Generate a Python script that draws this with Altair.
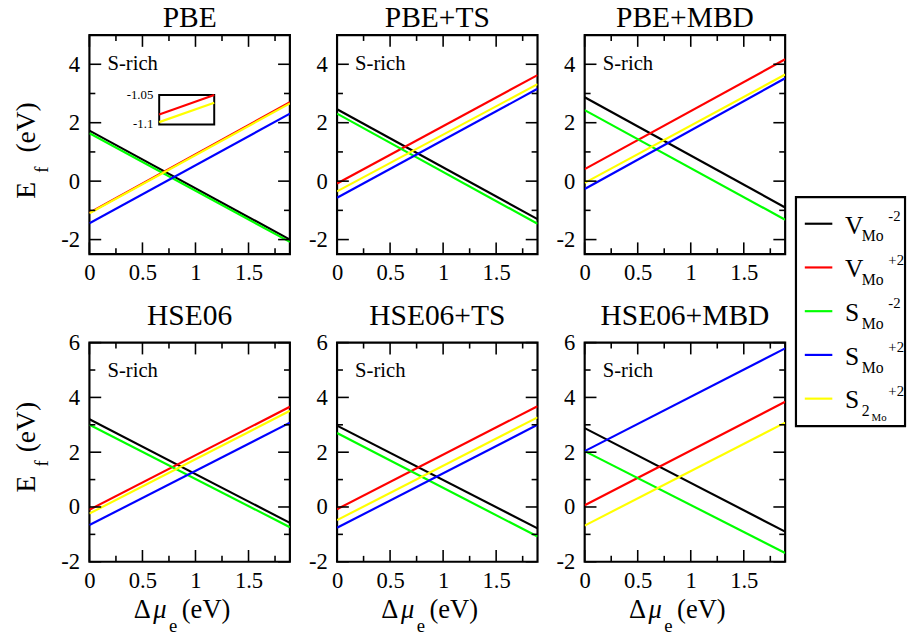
import altair as alt
import pandas as pd

FONT = "Liberation Serif, DejaVu Serif, serif"

methods = ["PBE", "PBE+TS", "PBE+MBD", "HSE06", "HSE06+TS", "HSE06+MBD"]
series = ["V_Mo^-2", "V_Mo^+2", "S_Mo^-2", "S_Mo^+2", "S2_Mo^+2"]
colors = ["#000000", "#ff0000", "#00ff00", "#0000ff", "#ffff00"]
mu_range = [0.0, 1.89]

# E_f (eV) at Δμe = 0 and at the right end, in the order of `series`
pbe_start = [1.73, -1.08, 1.64, -1.44, -1.10]
pbe_end = [-2.00, 2.70, -2.08, 2.31, 2.66]
pbets_start = [2.46, -0.08, 2.31, -0.57, -0.35]
pbets_end = [-1.30, 3.63, -1.46, 3.16, 3.32]
pbembd_start = [2.87, 0.41, 2.43, -0.27, -0.06]
pbembd_end = [-0.90, 4.17, -1.32, 3.52, 3.65]
hse_start = [3.20, -0.10, 3.00, -0.66, -0.24]
hse_end = [-0.58, 3.66, -0.74, 3.08, 3.51]
hsets_start = [2.97, -0.08, 2.70, -0.76, -0.48]
hsets_end = [-0.78, 3.68, -1.08, 3.00, 3.27]
hsembd_start = [2.88, 0.06, 2.04, 2.04, -0.68]
hsembd_end = [-0.90, 3.84, -1.68, 5.79, 3.08]

# inset of the PBE panel (zoom on V_Mo^+2 and S2_Mo^+2)
inset_mu = [0.0, 0.0165]
inset_red = [-1.083, -1.050]
inset_yellow = [-1.096, -1.063]
inset_ticks = [-1.05, -1.1]

# axis ticks
top_y_major = [-2, 0, 2, 4]
top_y_minor = [-1, 1, 3]
bot_y_major = [-2, 0, 2, 4, 6]
bot_y_minor = [-1, 1, 3, 5]
x_major = [0, 0.5, 1, 1.5]
x_minor = [0.25, 0.75, 1.25, 1.75]

# legend text pieces
leg_main = ["V", "V", "S", "S", "S"]
leg_sub = ["Mo", "Mo", "Mo", "Mo", "2"]
leg_subsub = ["", "", "", "", "Mo"]
leg_sup = ["-2", "+2", "-2", "+2", "+2"]

srich_label = "S-rich"

starts = [pbe_start, pbets_start, pbembd_start, hse_start, hsets_start, hsembd_start]
ends = [pbe_end, pbets_end, pbembd_end, hse_end, hsets_end, hsembd_end]

rows = []
for m, st, en in zip(methods, starts, ends):
    for s, a, b in zip(series, st, en):
        rows.append({"method": m, "series": s, "mu": mu_range[0], "ef": a})
        rows.append({"method": m, "series": s, "mu": mu_range[1], "ef": b})
lines_df = pd.DataFrame(rows)

W, H = 204, 223
MAJ, MIN = 12, 6
one = pd.DataFrame({"a": [0]})
LABEL_EXPR = "datum.value < 0 ? '-' + format(-datum.value, '') : format(datum.value, '')"


def text_piece(txt, x, y, size, angle=0, italic=False, align="center"):
    return alt.Chart(one).mark_text(
        text=txt, font=FONT, fontSize=size, angle=angle, align=align,
        baseline="alphabetic", color="black",
        fontStyle="italic" if italic else "normal",
    ).encode(x=alt.value(x), y=alt.value(y))


def panel(i):
    m = methods[i]
    top = i < 3
    ydom = [-2.5, 5] if top else [-2, 6]
    ymaj = top_y_major if top else bot_y_major
    ymin = top_y_minor if top else bot_y_minor
    xs = alt.Scale(domain=mu_range, nice=False, zero=False)
    ys = alt.Scale(domain=ydom, nice=False, zero=False)
    xaxis = alt.Axis(values=x_major, title=None, domain=False, ticks=False, tickSize=0,
                     grid=False, labelFont=FONT, labelFontSize=23, labelPadding=8,
                     labelColor="black", labelFlush=False, labelExpr=LABEL_EXPR)
    yaxis = alt.Axis(values=ymaj, title=None, domain=False, ticks=False, tickSize=0,
                     grid=False, labelFont=FONT, labelFontSize=23, labelPadding=10,
                     labelColor="black", labelFlush=False, labelExpr=LABEL_EXPR)
    df = lines_df[lines_df.method == m]
    layers = []
    for s, c in zip(series, colors):
        d = df[df.series == s]
        layers.append(alt.Chart(d).mark_line(color=c, strokeWidth=2.2, clip=True).encode(
            x=alt.X("mu:Q", scale=xs, axis=xaxis),
            y=alt.Y("ef:Q", scale=ys, axis=yaxis)))
    # inward ticks on all four sides
    for vals, L in ((ymaj, MAJ), (ymin, MIN)):
        base = alt.Chart(pd.DataFrame({"v": vals})).mark_rule(color="black", strokeWidth=1.6)
        yenc = alt.Y("v:Q", scale=ys, axis=yaxis)
        layers.append(base.encode(y=yenc, x=alt.value(0), x2=alt.value(L)))
        layers.append(base.encode(y=yenc, x=alt.value(W - L), x2=alt.value(W)))
    for vals, L in ((x_major, MAJ), (x_minor, MIN)):
        base = alt.Chart(pd.DataFrame({"v": vals})).mark_rule(color="black", strokeWidth=1.6)
        xenc = alt.X("v:Q", scale=xs, axis=xaxis)
        layers.append(base.encode(x=xenc, y=alt.value(H), y2=alt.value(H - L)))
        layers.append(base.encode(x=xenc, y=alt.value(0), y2=alt.value(L)))
    layers.append(alt.Chart(one).mark_text(
        text=srich_label, font=FONT, fontSize=21, align="left", baseline="middle", color="black"
    ).encode(x=alt.XDatum(0.17, type="quantitative", scale=xs, axis=xaxis),
             y=alt.YDatum(4 if top else 4.95, type="quantitative", scale=ys, axis=yaxis)))
    if i % 3 == 0:
        if top:
            ye, yf, yv = 158, 137, 94
        else:
            ye, yf, yv = 144, 123, 86
        layers.append(text_piece("E", -55, ye, 28, angle=270))
        layers.append(text_piece("f", -42, yf, 19, angle=270))
        layers.append(text_piece("(eV)", -55, yv, 28, angle=270))
    if not top:
        layers.append(text_piece("\u0394", 45, H + 57, 27, align="left"))
        layers.append(text_piece("\u03bc", 65, H + 57, 27, italic=True, align="left"))
        layers.append(text_piece("e", 81, H + 71, 19, align="left"))
        layers.append(text_piece("(eV)", 94, H + 57, 27, align="left"))
    main = alt.layer(*layers)
    if i == 0:
        ixs = alt.Scale(domain=inset_mu, range=[71, 127], nice=False, zero=False)
        iys = alt.Scale(domain=[inset_ticks[1], inset_ticks[0]], range=[91, 61], nice=False, zero=False)
        box_df = pd.DataFrame({"x0": [inset_mu[0]], "x1": [inset_mu[1]],
                               "y0": [inset_ticks[1]], "y1": [inset_ticks[0]]})
        box = alt.Chart(box_df).mark_rect(fill="white", stroke="black", strokeWidth=2).encode(
            x=alt.X("x0:Q", scale=ixs, axis=None), x2="x1:Q",
            y=alt.Y("y0:Q", scale=iys, axis=None), y2="y1:Q")
        ir = alt.Chart(pd.DataFrame({"mu": inset_mu, "ef": inset_red})).mark_line(
            color=colors[1], strokeWidth=2.2).encode(
            x=alt.X("mu:Q", scale=ixs, axis=None), y=alt.Y("ef:Q", scale=iys, axis=None))
        iy = alt.Chart(pd.DataFrame({"mu": inset_mu, "ef": inset_yellow})).mark_line(
            color=colors[4], strokeWidth=2.2).encode(
            x=alt.X("mu:Q", scale=ixs, axis=None), y=alt.Y("ef:Q", scale=iys, axis=None))
        lab_df = pd.DataFrame({"v": inset_ticks, "t": [str(v) for v in inset_ticks],
                               "mu": [inset_mu[0]] * 2})
        il = alt.Chart(lab_df).mark_text(font=FONT, fontSize=13, align="right",
                                         baseline="middle", dx=-6, color="black").encode(
            x=alt.X("mu:Q", scale=ixs, axis=None), y=alt.Y("v:Q", scale=iys, axis=None), text="t:N")
        inset = alt.layer(box, ir, iy, il)
        ch = alt.layer(main, inset).resolve_scale(x="independent", y="independent")
    else:
        ch = main
    return ch.properties(width=W, height=H, title=alt.TitleParams(
        m, font=FONT, fontSize=30, fontWeight="normal", color="black",
        anchor="middle", frame="group", offset=1))


leg_df = pd.DataFrame({"key": series, "main": leg_main, "sub": leg_sub,
                       "subsub": leg_subsub, "sup": leg_sup})
lys = alt.Scale(type="point", domain=series, range=[27, 205], padding=0)
lcs = alt.Scale(domain=series, range=colors)
lb = alt.Chart(leg_df)
legend = alt.layer(
    lb.mark_rule(strokeWidth=2.2).encode(
        y=alt.Y("key:N", scale=lys, axis=None), x=alt.value(9), x2=alt.value(37),
        color=alt.Color("key:N", scale=lcs, legend=None)),
    lb.mark_text(font=FONT, fontSize=26, align="left", baseline="alphabetic", dy=10, color="black").encode(
        y=alt.Y("key:N", scale=lys, axis=None), x=alt.value(50), text="main:N"),
    lb.mark_text(font=FONT, fontSize=16, align="left", baseline="alphabetic", dy=18, color="black").encode(
        y=alt.Y("key:N", scale=lys, axis=None), x=alt.value(67), text="sub:N"),
    lb.mark_text(font=FONT, fontSize=11, align="left", baseline="alphabetic", dy=23, color="black").encode(
        y=alt.Y("key:N", scale=lys, axis=None), x=alt.value(77), text="subsub:N"),
    lb.mark_text(font=FONT, fontSize=15, align="left", baseline="alphabetic", dy=-3, color="black").encode(
        y=alt.Y("key:N", scale=lys, axis=None), x=alt.value(94), text="sup:N"),
).properties(width=111, height=233)

spacer = alt.Chart(one).mark_point(opacity=0).encode(
    x=alt.value(0), y=alt.value(0)
).properties(width=111, height=161, view=alt.ViewBackground(stroke="transparent"))

grid = alt.vconcat(
    alt.hconcat(panel(0), panel(1), panel(2), spacing=15),
    alt.hconcat(panel(3), panel(4), panel(5), spacing=15),
    spacing=13,
)

chart = alt.hconcat(grid, alt.vconcat(spacer, legend, spacing=0), spacing=5).properties(
    padding={"left": 12, "top": -3, "right": 0, "bottom": 0},
    background="white",
).configure_view(stroke="black", strokeWidth=2.2)

chart.save("out.html", embed_options={"renderer": "svg", "actions": False})
